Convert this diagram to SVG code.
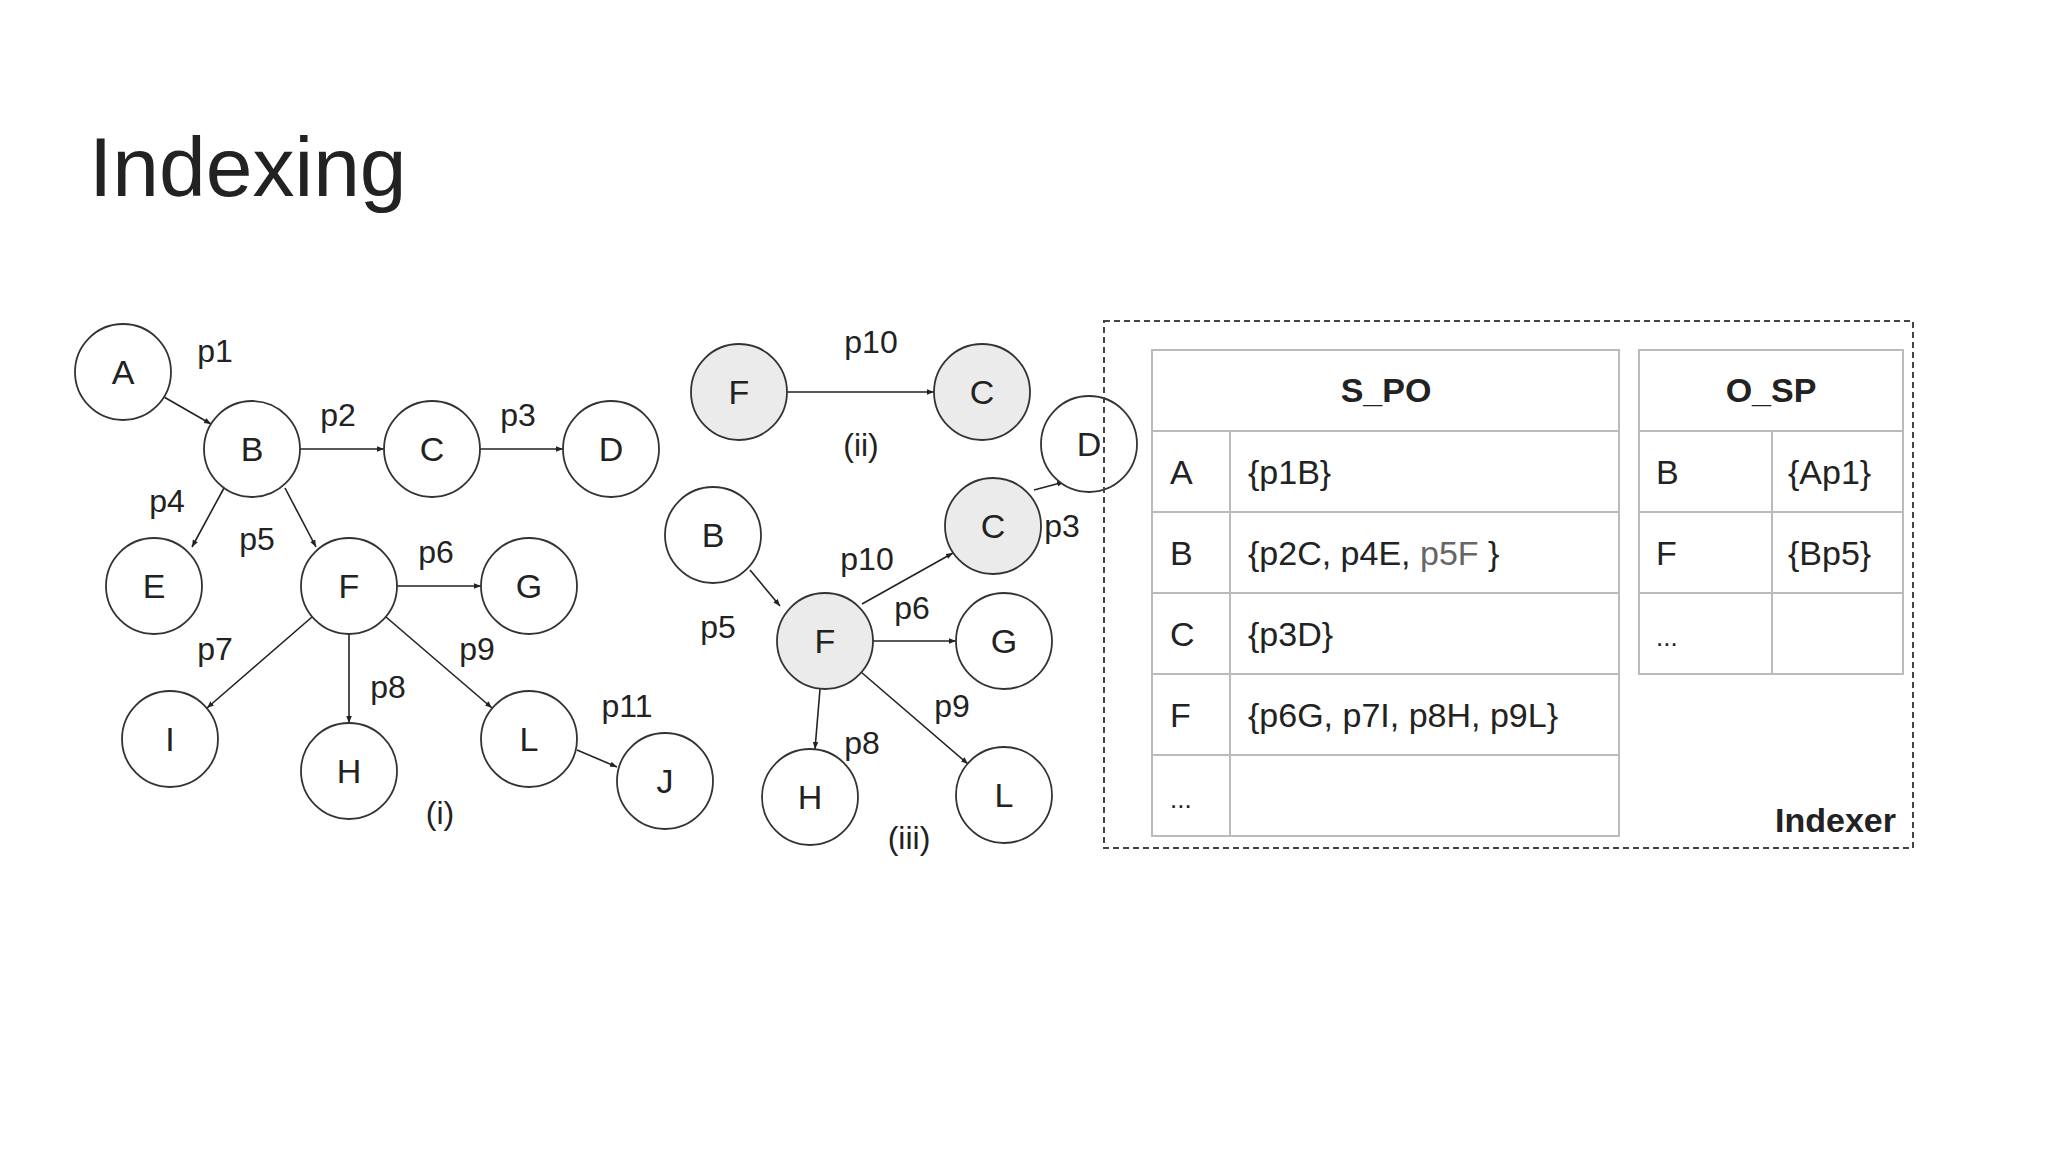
<svg xmlns="http://www.w3.org/2000/svg" width="2048" height="1152" viewBox="0 0 2048 1152">
<style>
text{font-family:"Liberation Sans",Arial,sans-serif;fill:#222}
.n circle{fill:#fff;stroke:#333;stroke-width:1.8}
.g circle{fill:#ebebeb}
.n text{font-size:34px;text-anchor:middle;dominant-baseline:central}
.lb{font-size:32px}
.e line{stroke:#222;stroke-width:1.6;marker-end:url(#ar)}
.t{fill:none;stroke:#bbb;stroke-width:2}
.tt{font-size:34px}
.hd{font-size:34px;font-weight:bold;text-anchor:middle}
</style>
<defs><marker id="ar" viewBox="0 0 10 10" refX="10" refY="5" markerWidth="7" markerHeight="7" orient="auto" markerUnits="userSpaceOnUse"><path d="M0,1L10,5L0,9z" fill="#222"/></marker></defs>
<rect width="2048" height="1152" fill="#fff"/>
<text x="89" y="196" font-size="84">Indexing</text>
<g id="edges" class="e">
<line x1="164" y1="397" x2="211" y2="424"/>
<line x1="300" y1="449" x2="384" y2="449"/>
<line x1="480" y1="449" x2="563" y2="449"/>
<line x1="224" y1="488" x2="192" y2="547"/>
<line x1="285" y1="488" x2="316" y2="547"/>
<line x1="397" y1="586" x2="481" y2="586"/>
<line x1="312" y1="617" x2="207" y2="708"/>
<line x1="349" y1="634" x2="349" y2="723"/>
<line x1="386" y1="617" x2="492" y2="708"/>
<line x1="577" y1="750" x2="617" y2="767"/>
<line x1="787" y1="392" x2="934" y2="392"/>
<line x1="750" y1="570" x2="780" y2="606"/>
<line x1="862" y1="604" x2="953" y2="553"/>
<line x1="1034" y1="490" x2="1064" y2="482"/>
<line x1="873" y1="641" x2="956" y2="641"/>
<line x1="820" y1="689" x2="815" y2="749"/>
<line x1="861" y1="672" x2="968" y2="764"/>
</g>
<g id="nA" class="n"><circle cx="123" cy="372" r="48"/><text x="123" y="372">A</text></g>
<g id="nB" class="n"><circle cx="252" cy="449" r="48"/><text x="252" y="449">B</text></g>
<g id="nC" class="n"><circle cx="432" cy="449" r="48"/><text x="432" y="449">C</text></g>
<g id="nD" class="n"><circle cx="611" cy="449" r="48"/><text x="611" y="449">D</text></g>
<g id="nE" class="n"><circle cx="154" cy="586" r="48"/><text x="154" y="586">E</text></g>
<g id="nF" class="n"><circle cx="349" cy="586" r="48"/><text x="349" y="586">F</text></g>
<g id="nG" class="n"><circle cx="529" cy="586" r="48"/><text x="529" y="586">G</text></g>
<g id="nI" class="n"><circle cx="170" cy="739" r="48"/><text x="170" y="739">I</text></g>
<g id="nH" class="n"><circle cx="349" cy="771" r="48"/><text x="349" y="771">H</text></g>
<g id="nL" class="n"><circle cx="529" cy="739" r="48"/><text x="529" y="739">L</text></g>
<g id="nJ" class="n"><circle cx="665" cy="781" r="48"/><text x="665" y="781">J</text></g>
<g id="n2F" class="n g"><circle cx="739" cy="392" r="48"/><text x="739" y="392">F</text></g>
<g id="n2C" class="n g"><circle cx="982" cy="392" r="48"/><text x="982" y="392">C</text></g>
<g id="n3D" class="n"><circle cx="1089" cy="444" r="48"/><text x="1089" y="444">D</text></g>
<g id="n3B" class="n"><circle cx="713" cy="535" r="48"/><text x="713" y="535">B</text></g>
<g id="n3C" class="n g"><circle cx="993" cy="526" r="48"/><text x="993" y="526">C</text></g>
<g id="n3F" class="n g"><circle cx="825" cy="641" r="48"/><text x="825" y="641">F</text></g>
<g id="n3G" class="n"><circle cx="1004" cy="641" r="48"/><text x="1004" y="641">G</text></g>
<g id="n3H" class="n"><circle cx="810" cy="797" r="48"/><text x="810" y="797">H</text></g>
<g id="n3L" class="n"><circle cx="1004" cy="795" r="48"/><text x="1004" y="795">L</text></g>
<g id="labels" class="lb" text-anchor="middle">
<text x="215" y="362">p1</text><text x="338" y="426">p2</text><text x="518" y="426">p3</text>
<text x="167" y="512">p4</text><text x="257" y="550">p5</text><text x="436" y="563">p6</text>
<text x="215" y="660">p7</text><text x="388" y="698">p8</text><text x="477" y="660">p9</text>
<text x="627" y="717">p11</text><text x="440" y="824">(i)</text>
<text x="871" y="353">p10</text><text x="861" y="456">(ii)</text>
<text x="1062" y="537">p3</text><text x="867" y="570">p10</text><text x="912" y="619">p6</text>
<text x="718" y="638">p5</text><text x="952" y="717">p9</text><text x="862" y="754">p8</text>
<text x="909" y="849">(iii)</text>
</g>
<g id="indexer">
<rect x="1104" y="321" width="809" height="527" fill="none" stroke="#444" stroke-width="2" stroke-dasharray="6,4"/>
<text x="1896" y="832" font-size="34" font-weight="bold" text-anchor="end">Indexer</text>
</g>
<g id="spo">
<rect class="t" x="1152" y="350" width="467" height="486"/>
<path class="t" d="M1152 431H1619M1152 512H1619M1152 593H1619M1152 674H1619M1152 755H1619M1230 431V836"/>
<text class="hd" x="1386" y="402">S_PO</text>
<g class="tt">
<text x="1170" y="484">A</text><text x="1248" y="484">{p1B}</text>
<text x="1170" y="565">B</text><text x="1248" y="565">{p2C, p4E, <tspan fill="#666">p5F</tspan> }</text>
<text x="1170" y="646">C</text><text x="1248" y="646">{p3D}</text>
<text x="1170" y="727">F</text><text x="1248" y="727">{p6G, p7I, p8H, p9L}</text>
<text x="1170" y="808" font-size="26">...</text>
</g>
</g>
<g id="osp">
<rect class="t" x="1639" y="350" width="264" height="324"/>
<path class="t" d="M1639 431H1903M1639 512H1903M1639 593H1903M1772 431V674"/>
<text class="hd" x="1771" y="402">O_SP</text>
<g class="tt">
<text x="1656" y="484">B</text><text x="1788" y="484">{Ap1}</text>
<text x="1656" y="565">F</text><text x="1788" y="565">{Bp5}</text>
<text x="1656" y="646" font-size="26">...</text>
</g>
</g>
</svg>
